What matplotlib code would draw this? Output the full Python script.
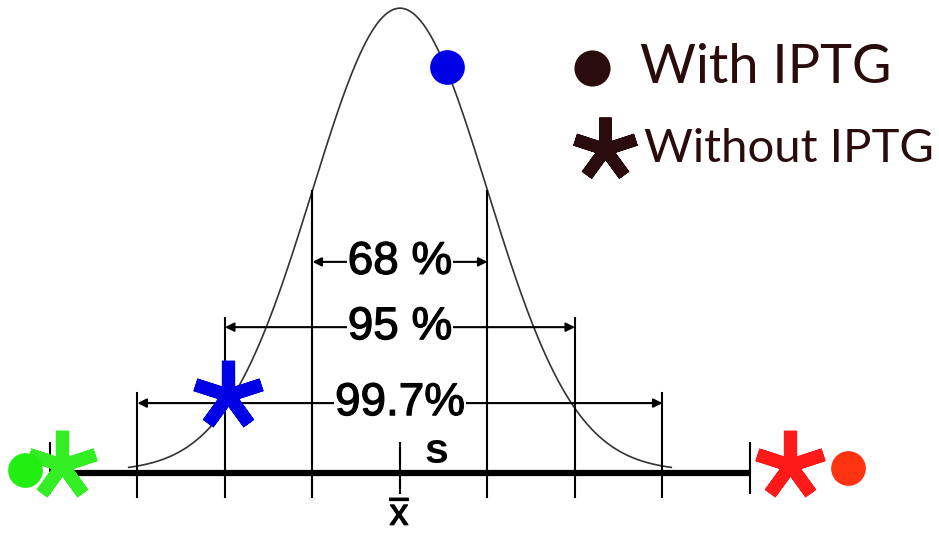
import numpy as np
import matplotlib
matplotlib.use('Agg')
from matplotlib import pyplot as plt
import matplotlib.patheffects as pe

# Data (x in standard deviations, y as fraction of the peak height)
# ================================================================
sd_levels = [1, 2, 3]
pct_labels = ['68 %', '95 %', '99.7%']
arrow_y = [0.456, 0.315, 0.151]
line_top = [0.61, 0.335, 0.173]

# markers: with IPTG (circles) / without IPTG (asterisks)
with_x = [-4.29, 0.54, 5.12]
with_y = [0.006, 0.877, 0.011]
with_col = ['#22ee11', '#0000e6', '#ff3311']
without_x = [-3.86, -1.97, 4.46]
without_y = [0.017, 0.168, 0.017]
without_col = ['#33ee22', '#0000e6', '#ff1a1a']

legend_labels = ['With IPTG', 'Without IPTG']

plt.rcParams['mathtext.fontset'] = 'custom'
plt.rcParams['mathtext.rm'] = 'Liberation Sans'

fig = plt.figure(figsize=(9.39, 5.35), dpi=100)
ax = fig.add_axes([0, 0, 1, 1])
ax.set_xlim(-4.571, 6.16)
ax.set_ylim(-0.1339, 1.0216)
ax.axis('off')

heavy = [pe.withStroke(linewidth=0.9, foreground='black')]

#%% normal curve
z = np.linspace(-3.1, 3.1, 400)
ax.plot(z, np.exp(-z**2 / 2) + 0.004, color='#333333', lw=1.2, zorder=2)

# baseline + ticks
ax.plot([-4, 4], [0, 0], color='black', lw=4.5, solid_capstyle='butt', zorder=3)
for t in [-3, -2, -1, 1, 2, 3]:
    ax.plot([t, t], [0, -0.052], color='black', lw=1.5, zorder=3)
ax.plot([0, 0], [0.065, -0.043], color='black', lw=1.5, zorder=3)
for t in [-4, 4]:
    ax.plot([t, t], [0.065, -0.043], color='black', lw=1.5, zorder=3)

# sd lines and arrows
for k, lab, ay, top in zip(sd_levels, pct_labels, arrow_y, line_top):
    for s in [-k, k]:
        ax.plot([s, s], [0, top], color='black', lw=1.5, zorder=3)
    ax.annotate('', xy=(-k, ay), xytext=(k, ay),
                arrowprops=dict(arrowstyle='<|-|>', color='black', lw=1.5,
                                mutation_scale=13, shrinkA=0, shrinkB=0))
    ax.text(0, ay, lab, ha='center', va='center', fontsize=33,
            family='Liberation Sans', color='black', zorder=4, path_effects=heavy,
            bbox=dict(facecolor='white', edgecolor='none', pad=0.5))

ax.text(0.42, 0.045, 's', ha='center', va='center', fontsize=31,
        family='Liberation Sans', fontweight='bold')
ax.text(0, -0.052, r'$\overline{\mathrm{x}}$', ha='center', va='top', fontsize=27,
        path_effects=heavy)

#%% markers
for x, y, c in zip(without_x, without_y, without_col):
    ax.plot(x, y, marker=(5, 2, 0), markersize=50, markeredgewidth=9.5,
            color=c, zorder=5)
for x, y, c in zip(with_x, with_y, with_col):
    ax.plot(x, y, marker='o', markersize=25, color=c, markeredgewidth=0, zorder=6)

#%% legend
dark = '#2a0c0c'
ax.plot(0.63, 0.873, 'o', transform=ax.transAxes, markersize=26,
        color=dark, markeredgewidth=0, clip_on=False)
ax.plot(0.644, 0.722, marker=(5, 2, 0), transform=ax.transAxes, markersize=46,
        markeredgewidth=9, color=dark, clip_on=False)
ax.text(0.682, 0.873, legend_labels[0], transform=ax.transAxes, fontsize=39,
        family='Lato', color=dark, va='center', ha='left')
ax.text(0.686, 0.722, legend_labels[1], transform=ax.transAxes, fontsize=34,
        family='Lato', color=dark, va='center', ha='left')

plt.savefig('out.png', dpi=100)
